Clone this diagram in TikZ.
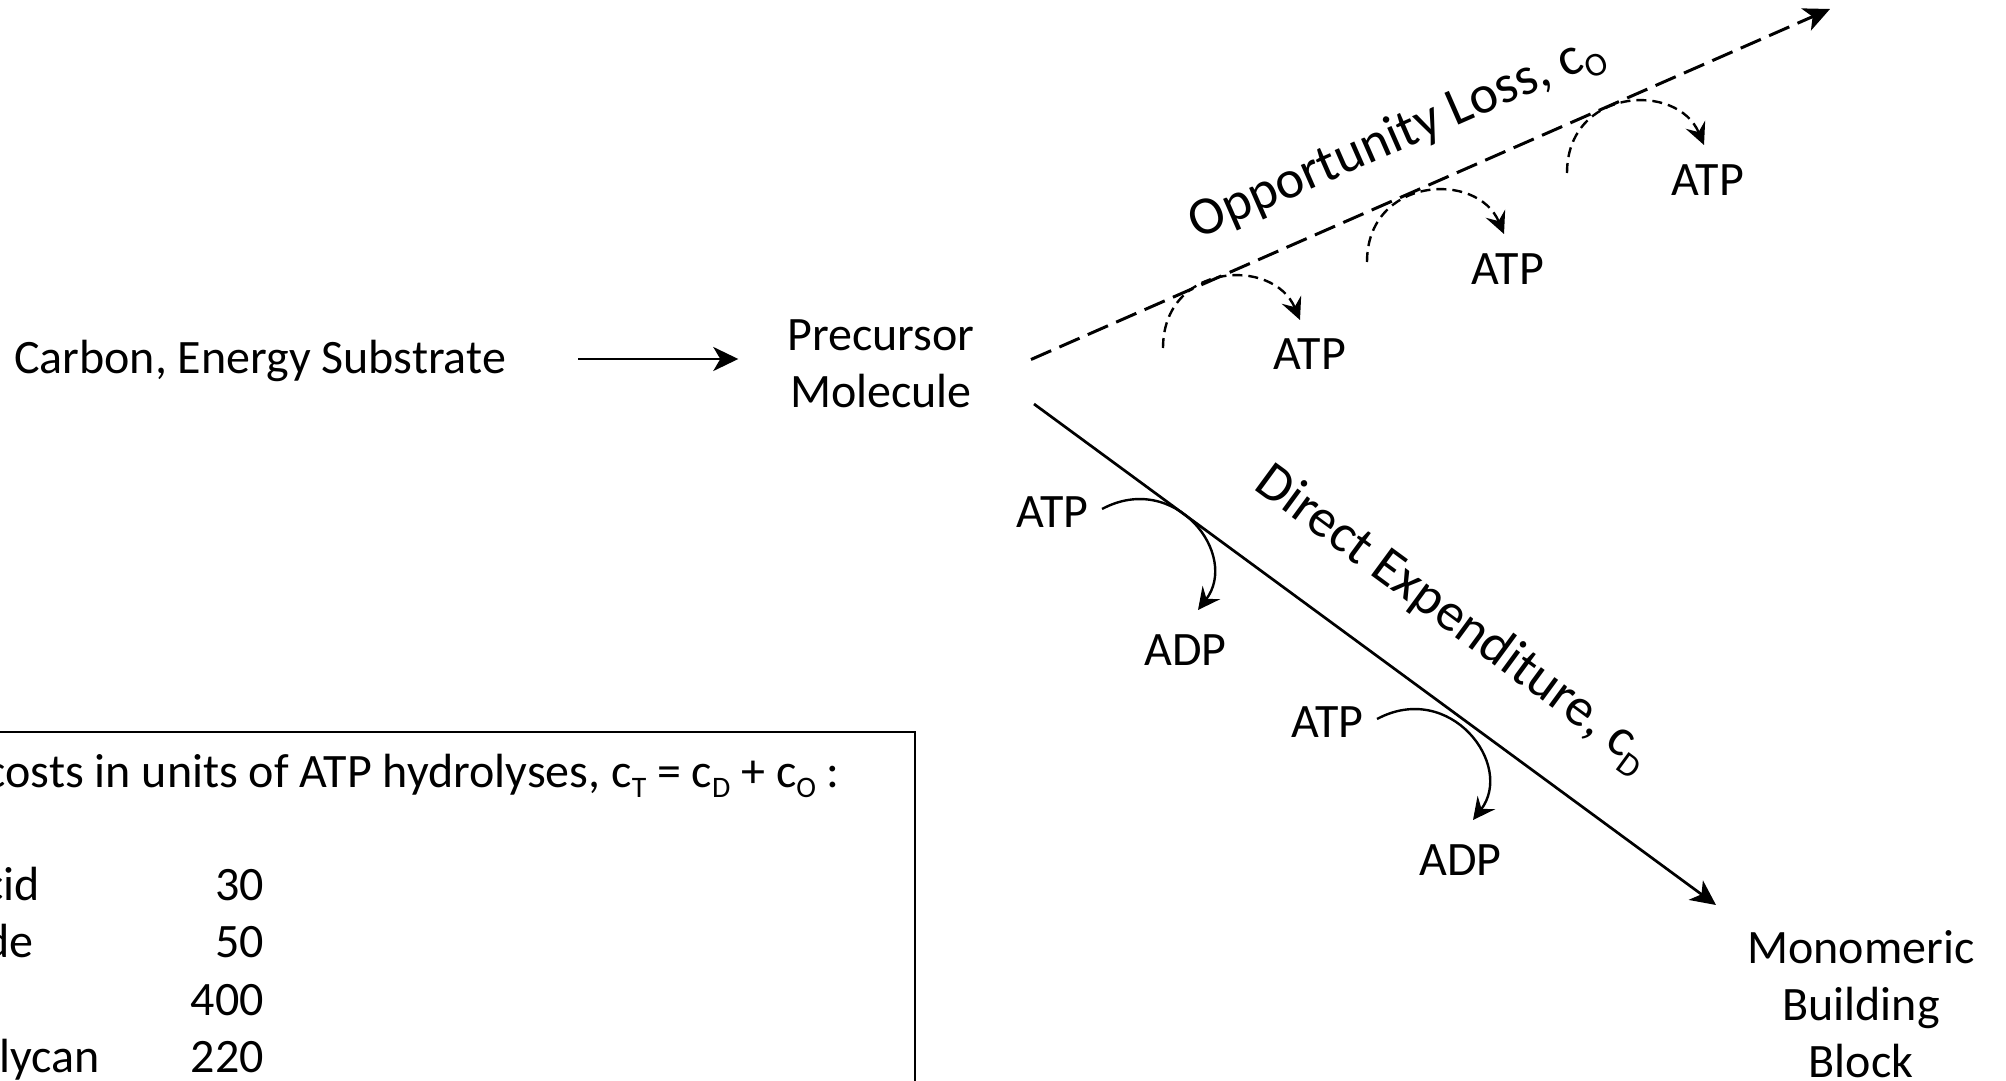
\documentclass[tikz,border=0pt]{standalone}
\usepackage{fontspec}
\usepackage{graphicx}
\setmainfont{Carlito}
\usetikzlibrary{arrows.meta}

% lowered, reduced subscript as used in c_T, c_D, c_O
\newcommand{\lowsub}[1]{\raisebox{-0.21em}{\scalebox{0.62}{#1}}}

\tikzset{
  txt/.style={font=\fontsize{48}{57}\selectfont, inner sep=0pt, align=center},
  word/.style={font=\fontsize{48}{57}\selectfont, inner sep=0pt},
  lbl/.style={font=\fontsize{54}{64}\selectfont, inner sep=0pt},
  flow/.style={line width=2.7pt, -{Stealth[length=25pt,width=24pt,inset=7pt]}},
  oppline/.style={line width=3pt, dash pattern=on 22pt off 9pt,
    -{Stealth[length=26pt,width=24pt,inset=7pt]}},
  darc/.style={line width=2.4pt, dash pattern=on 10pt off 6pt,
    -{Stealth[length=22pt,width=21pt,inset=8pt]}},
  sarc/.style={line width=2.4pt, -{Stealth[length=22pt,width=22pt,inset=8pt]}},
  frame/.style={line width=2pt}
}

\begin{document}
\begin{tikzpicture}[x=1pt, y=-1pt]
\useasboundingbox (0,0) rectangle (2006,1081);
\clip (0,0) rectangle (2006,1081);

% main pathway
\node[word, text height=30pt, text depth=1pt] (carbon) at (260,359) {Carbon, Energy Substrate};
\node[txt] (prec) at (881,364) {Precursor\\Molecule};
\node[txt] (mono) at (1861,1004) {Monomeric\\Building\\Block};
\draw[flow, shorten <=72pt, shorten >=49pt] (carbon.east) -- (carbon.east -| prec.west);

% opportunity-loss branch (dashed)
\coordinate (oS) at (1031,359.5);
\coordinate (oE) at (1830,9);
\draw[oppline] (oS) -- (oE);
\node[lbl, rotate=23.65] (opp) at (1397,138) {Opportunity Loss, c\lowsub{O}};

\foreach \i/\ax/\ay/\lx/\ly in {1/0/0/0/0, 2/204/-86/198/-85, 3/404/-175/398/-174}{
  \begin{scope}[shift={(\lx,\ly)}]
    \node[word, anchor=base] (atpO\i) at (1310,369) {ATP};
  \end{scope}
  \begin{scope}[shift={(\ax,\ay)}]
    \coordinate (dS\i) at (1163,348);
    \coordinate (dE\i) at (1300,320);
    \draw[darc] (dS\i) .. controls (1163,263) and (1273,256) .. (dE\i);
  \end{scope}
}

% direct-expenditure branch (solid)
\coordinate (dS) at (1034,404);
\coordinate (dE) at (1716,905);
\draw[flow] (dS) -- (dE);
\node[lbl, rotate=-36.27] (dir) at (1453,619) {Direct Expenditure, c\lowsub{D}};

\foreach \i/\sx/\sy in {1/0/0, 2/275/210}{
  \begin{scope}[shift={(\sx,\sy)}]
    \node[word, anchor=base] (atpD\i) at (1052.5,527) {ATP};
    \node[word, anchor=base] (adp\i) at (1185.5,665) {ADP};
    \coordinate (hS\i) at (1102,509);
    \coordinate (hE\i) at (1198,610);
    \draw[sarc] (hS\i) .. controls (1175,470) and (1240,555) .. (hE\i);
  \end{scope}
}

% cost table
\draw[frame] (-10,732) -- (914.5,732) -- (914.5,1100);
\node[word, anchor=base east] (hdr) at (840,787)
  {costs in units of ATP hydrolyses, c\lowsub{T} = c\lowsub{D} + c\lowsub{O} :};
\node[word, anchor=base east] (n1) at (40,900) {cid};
\node[word, anchor=base east] (v1) at (264,900) {30};
\node[word, anchor=base east] (n2) at (34,957.5) {de};
\node[word, anchor=base east] (v2) at (264,957.5) {50};
\node[word, anchor=base east] (v3) at (264,1015) {400};
\node[word, anchor=base east] (n4) at (100,1072.5) {lycan};
\node[word, anchor=base east] (v4) at (264,1072.5) {220};
\end{tikzpicture}
\end{document}
